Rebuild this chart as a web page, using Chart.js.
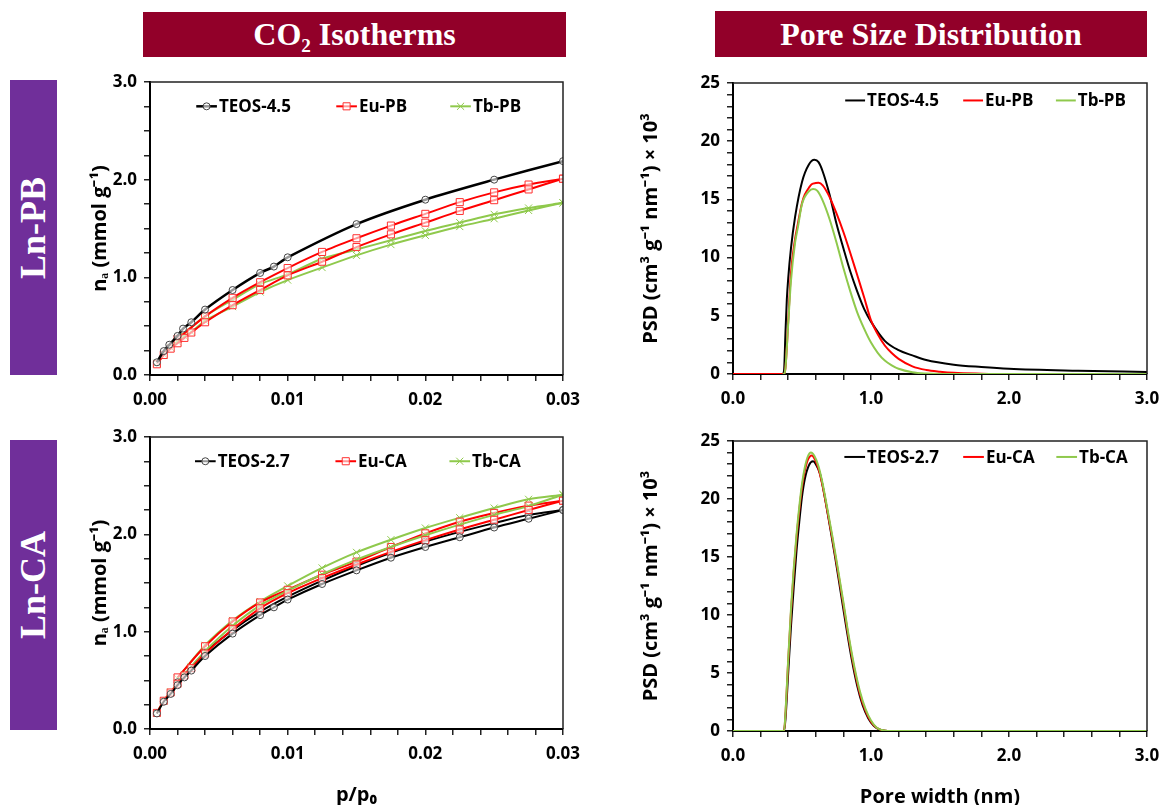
<!DOCTYPE html>
<html>
<head>
<meta charset="utf-8">
<script src="https://cdn.jsdelivr.net/npm/chart.js@4.4.1/dist/chart.umd.min.js"></script>
<style>
  body { margin: 0; width: 1163px; height: 805px; position: relative; overflow: hidden; background: #fff; font-family: 'Open Sans', sans-serif; }
  .hdr { position: absolute; background: #920029; color: #fff; font: bold 32px 'Liberation Serif', serif; display: flex; align-items: center; justify-content: center; }
  .hdr sub { font-size: 0.6em; vertical-align: -0.35em; line-height: 0; }
  .side { position: absolute; background: #702F9A; color: #fff; font: bold 36px 'Liberation Serif', serif; display: flex; align-items: center; justify-content: center; }
  .side span { transform: rotate(-90deg); white-space: nowrap; }
  .box { position: absolute; }
</style>
</head>
<body>

<div class="hdr" style="left:143px;top:12px;width:423px;height:45px"><span>CO<sub>2</sub> Isotherms</span></div>
<div class="hdr" style="left:715px;top:11px;width:432px;height:46px"><span>Pore Size Distribution</span></div>
<div class="side" style="left:10px;top:80px;width:47px;height:295px"><span>Ln-PB</span></div>
<div class="side" style="left:10px;top:440px;width:47px;height:290px"><span>Ln-CA</span></div>

<div class="box" style="left:58px;top:60px"><canvas id="isoPB" width="530" height="353"></canvas></div>
<div class="box" style="left:58px;top:415px"><canvas id="isoCA" width="530" height="397"></canvas></div>
<div class="box" style="left:620px;top:60px"><canvas id="psdPB" width="543" height="352"></canvas></div>
<div class="box" style="left:620px;top:415px"><canvas id="psdCA" width="543" height="397"></canvas></div>

<script>
// ---- CO2 isotherms, Ln-PB (p/p0 vs mmol/g) ----
const pTeos45 = [0.0005, 0.001, 0.0014, 0.002, 0.0024, 0.003, 0.004, 0.006, 0.008, 0.009, 0.01, 0.015, 0.02, 0.025, 0.03]
const nTeos45 = [0.13, 0.245, 0.31, 0.40, 0.475, 0.54, 0.67, 0.87, 1.045, 1.11, 1.205, 1.545, 1.795, 2.0, 2.19]

const pAdsPB = [0.0005, 0.001, 0.0015, 0.002, 0.0025, 0.003, 0.004, 0.006, 0.008, 0.01, 0.0125, 0.015, 0.0175, 0.02, 0.0225, 0.025, 0.0275, 0.03]
const nEuPBAds = [0.11, 0.205, 0.27, 0.325, 0.38, 0.435, 0.54, 0.715, 0.87, 1.02, 1.16, 1.31, 1.44, 1.56, 1.68, 1.79, 1.90, 2.01]
const nTbPBAds = [0.12, 0.21, 0.28, 0.34, 0.395, 0.44, 0.555, 0.70, 0.85, 0.972, 1.10, 1.225, 1.335, 1.43, 1.52, 1.60, 1.685, 1.763]
const pDesPB = [0.03, 0.0275, 0.025, 0.0225, 0.02, 0.0175, 0.015, 0.0125, 0.01, 0.008, 0.006, 0.004, 0.002]
const nEuPBDes = [2.01, 1.95, 1.87, 1.77, 1.65, 1.53, 1.40, 1.26, 1.095, 0.95, 0.79, 0.60, 0.37]
const nTbPBDes = [1.763, 1.71, 1.645, 1.56, 1.475, 1.38, 1.285, 1.19, 1.03, 0.93, 0.77, 0.60, 0.37]

// ---- CO2 isotherms, Ln-CA ----
const pTeos27Ads = [0.0005, 0.001, 0.0015, 0.002, 0.0025, 0.003, 0.004, 0.006, 0.008, 0.009, 0.01, 0.0125, 0.015, 0.0175, 0.02, 0.0225, 0.025, 0.0275, 0.03]
const nTeos27Ads = [0.16, 0.28, 0.36, 0.45, 0.53, 0.60, 0.75, 0.98, 1.17, 1.25, 1.33, 1.49, 1.63, 1.76, 1.87, 1.97, 2.07, 2.16, 2.25]
const pAdsCA = [0.0005, 0.001, 0.0015, 0.002, 0.0025, 0.003, 0.004, 0.006, 0.008, 0.01, 0.0125, 0.015, 0.0175, 0.02, 0.0225, 0.025, 0.0275, 0.03]
const nEuCAAds = [0.165, 0.29, 0.375, 0.465, 0.55, 0.625, 0.775, 1.025, 1.24, 1.395, 1.55, 1.69, 1.82, 1.94, 2.05, 2.15, 2.25, 2.346]
const nTbCAAds = [0.165, 0.29, 0.38, 0.47, 0.56, 0.64, 0.80, 1.06, 1.27, 1.42, 1.59, 1.74, 1.87, 1.99, 2.10, 2.20, 2.29, 2.408]
const pDesCA = [0.03, 0.0275, 0.025, 0.0225, 0.02, 0.0175, 0.015, 0.0125, 0.01, 0.008, 0.006, 0.004, 0.002]
const nTeos27Des = [2.25, 2.20, 2.115, 2.025, 1.925, 1.81, 1.675, 1.525, 1.36, 1.205, 1.015, 0.785, 0.48]
const nEuCADes = [2.346, 2.295, 2.22, 2.13, 2.01, 1.87, 1.72, 1.585, 1.43, 1.30, 1.105, 0.85, 0.53]
const nTbCADes = [2.408, 2.36, 2.27, 2.17, 2.065, 1.945, 1.815, 1.655, 1.47, 1.31, 1.115, 0.86, 0.52]

// ---- pore size distribution, Ln-PB (nm vs PSD x 10^3) ----
const wTeos45 = [0.36, 0.37, 0.38, 0.39, 0.40, 0.42, 0.45, 0.50, 0.55, 0.59, 0.62, 0.65, 0.70, 0.75, 0.80, 0.85, 0.90, 0.95, 1.00, 1.10, 1.20, 1.30, 1.40, 1.60, 1.80, 2.00, 2.50, 3.00]
const psdTeos45 = [0, 0.3, 3.5, 6.4, 8.2, 10.8, 13.5, 16.5, 18.0, 18.4, 18.2, 17.4, 15.4, 12.9, 10.8, 8.8, 7.1, 5.6, 4.5, 2.85, 2.05, 1.6, 1.2, 0.8, 0.6, 0.45, 0.28, 0.17]
const wEuPB = [0, 0.37, 0.38, 0.40, 0.42, 0.45, 0.47, 0.50, 0.52, 0.55, 0.57, 0.60, 0.62, 0.65, 0.70, 0.75, 0.80, 0.85, 0.90, 0.95, 1.00, 1.05, 1.10, 1.15, 1.20, 1.30, 1.40, 1.50, 1.60, 1.80, 2.00, 3.00]
const psdEuPB = [0, 0, 0.5, 4.5, 8.7, 11.6, 12.9, 14.7, 15.4, 16.0, 16.3, 16.4, 16.42, 16.2, 15.2, 13.8, 12.2, 10.4, 8.5, 6.6, 4.6, 3.4, 2.45, 1.8, 1.3, 0.66, 0.35, 0.2, 0.1, 0.03, 0, 0]
const wTbPB = [0.36, 0.37, 0.38, 0.40, 0.42, 0.45, 0.47, 0.50, 0.55, 0.58, 0.61, 0.65, 0.70, 0.75, 0.80, 0.85, 0.90, 0.95, 1.00, 1.05, 1.10, 1.15, 1.20, 1.30, 1.40, 1.50, 3.00]
const psdTbPB = [0, 0, 0.5, 4.3, 8.0, 11.3, 12.6, 14.6, 15.7, 15.9, 15.75, 14.9, 13.3, 11.3, 9.1, 7.1, 5.3, 3.9, 2.7, 1.8, 1.15, 0.75, 0.45, 0.15, 0.04, 0, 0]

// ---- pore size distribution, Ln-CA ----
const wTeos27 = [0, 0.37, 0.38, 0.40, 0.42, 0.44, 0.46, 0.48, 0.50, 0.52, 0.55, 0.58, 0.60, 0.63, 0.66, 0.70, 0.74, 0.78, 0.82, 0.86, 0.90, 0.94, 0.98, 1.02, 1.06, 1.10, 1.15, 3.00]
const psdTeos27 = [0, 0, 1.0, 5.0, 9.0, 12.4, 15.5, 18.0, 20.2, 21.7, 22.9, 23.25, 23.0, 22.2, 20.5, 17.8, 15.0, 12.0, 9.0, 6.2, 3.9, 2.2, 1.1, 0.45, 0.14, 0.02, 0, 0]
const wEuCA = [0, 0.37, 0.38, 0.40, 0.42, 0.44, 0.46, 0.48, 0.50, 0.52, 0.54, 0.57, 0.59, 0.62, 0.65, 0.68, 0.72, 0.76, 0.80, 0.84, 0.88, 0.92, 0.96, 1.00, 1.04, 1.08, 1.12, 3.00]
const psdEuCA = [0, 0, 1.4, 6.0, 10.2, 13.7, 16.6, 19.0, 21.0, 22.4, 23.3, 23.75, 23.5, 22.6, 21.1, 19.2, 16.6, 13.8, 10.9, 7.9, 5.3, 3.2, 1.75, 0.8, 0.28, 0.07, 0, 0]
const wTbCA = [0, 0.37, 0.38, 0.40, 0.42, 0.44, 0.46, 0.48, 0.50, 0.52, 0.54, 0.565, 0.59, 0.62, 0.65, 0.68, 0.72, 0.76, 0.80, 0.84, 0.88, 0.92, 0.96, 1.00, 1.04, 1.08, 1.12, 1.20, 3.00]
const psdTbCA = [0, 0, 1.5, 6.2, 10.5, 14.0, 16.9, 19.3, 21.3, 22.7, 23.6, 24.0, 23.7, 22.8, 21.3, 19.4, 16.8, 14.0, 11.1, 8.1, 5.5, 3.4, 1.9, 0.9, 0.3, 0.08, 0.01, 0, 0]

const BLACK = '#000000'
const RED = '#ff0000'
const GREEN = '#8fc94c'
const tickFont = { family: 'Open Sans', size: 17, weight: 'bold' }
const titleFont = { family: 'Open Sans', size: 20, weight: 'bold' }

const toXY = (xs, ys) => xs.map((x, i) => ({ x: x, y: ys[i] }))

// legend drawn inside the plot, excel style
const insideLegend = {
  id: 'insideLegend',
  afterDatasetsDraw(chart, args, opts) {
    const ctx = chart.ctx
    const a = chart.chartArea
    const w = a.right - a.left
    const y = a.top + opts.y * (a.bottom - a.top)
    ctx.save()
    ctx.font = 'bold 17px "Open Sans"'
    ctx.textBaseline = 'middle'
    let k = 0
    chart.data.datasets.forEach(ds => {
      if (ds.noLegend) return
      const x0 = a.left + opts.starts[k] * w
      const x1 = x0 + opts.len * w
      k++
      ctx.strokeStyle = ds.borderColor
      ctx.lineWidth = ds.borderWidth
      ctx.beginPath(); ctx.moveTo(x0, y); ctx.lineTo(x1, y); ctx.stroke()
      if (ds.pointRadius > 0) {
        ctx.fillStyle = ds.pointBackgroundColor
        ctx.strokeStyle = ds.pointBorderColor
        ctx.lineWidth = 1
        Chart.helpers.drawPoint(ctx, { pointStyle: ds.pointStyle, radius: ds.pointRadius, borderWidth: 1, rotation: 0 }, (x0 + x1) / 2, y)
      }
      ctx.fillStyle = '#000'
      ctx.fillText(ds.label, x1 + 2, y + 1)
    })
    ctx.restore()
  }
}

// top and right edges of the plot box
const plotFrame = {
  id: 'plotFrame',
  afterDraw(chart) {
    const ctx = chart.ctx
    const a = chart.chartArea
    ctx.save()
    ctx.strokeStyle = '#222'
    ctx.lineWidth = 1.5
    ctx.beginPath()
    ctx.moveTo(a.left, a.top); ctx.lineTo(a.right, a.top); ctx.lineTo(a.right, a.bottom)
    ctx.stroke()
    ctx.restore()
  }
}

function axis(min, max, step, every, digits, size, title, titlePad, horizontal) {
  return {
    type: 'linear',
    min: min,
    max: max,
    afterFit: s => {
      if (horizontal) { s.height = size; s.paddingLeft = 0; s.paddingRight = 0 } else s.width = size
    },
    grid: { display: true, drawOnChartArea: false, drawTicks: true, tickLength: 6, color: '#222', lineWidth: 1.5 },
    border: { display: true, color: '#000', width: 2 },
    ticks: {
      stepSize: step,
      maxTicksLimit: 200,
      autoSkip: false,
      maxRotation: 0,
      padding: horizontal ? 9 : 7,
      color: '#000',
      font: tickFont,
      callback: v => Math.abs(v / every - Math.round(v / every)) < 1e-6 ? v.toFixed(digits) : ''
    },
    title: { display: !!title, text: title, color: '#000', font: titleFont, padding: titlePad }
  }
}

function isoSet(label, xs, ys, color, style, radius, ptColor, width, noLegend) {
  return {
    label: label,
    data: toXY(xs, ys),
    showLine: true,
    borderColor: color,
    borderWidth: width,
    tension: 0.3,
    pointStyle: style,
    pointRadius: radius,
    pointBorderColor: ptColor,
    pointBorderWidth: 1,
    pointBackgroundColor: 'rgba(255,255,255,0.6)',
    noLegend: noLegend
  }
}

function psdSet(label, xs, ys, color, order) {
  return {
    label: label,
    data: toXY(xs, ys),
    showLine: true,
    borderColor: color,
    borderWidth: 2,
    pointRadius: 0,
    tension: 0.4,
    cubicInterpolationMode: 'monotone',
    order: order
  }
}

function makeChart(id, datasets, xAxis, yAxis, pad, legendOpts) {
  return new Chart(document.getElementById(id), {
    type: 'scatter',
    data: { datasets: datasets },
    options: {
      responsive: false,
      animation: false,
      events: [],
      layout: { padding: pad },
      scales: { x: xAxis, y: yAxis },
      plugins: { legend: { display: false }, tooltip: { enabled: false }, insideLegend: legendOpts }
    },
    plugins: [insideLegend, plotFrame]
  })
}

makeChart('isoPB', [
  isoSet('TEOS-4.5', pTeos45, nTeos45, BLACK, 'circle', 3.5, '#444', 2.5, false),
  isoSet('Eu-PB', pAdsPB, nEuPBAds, RED, 'rect', 5, '#ff3030', 2, false),
  isoSet('Tb-PB', pAdsPB, nTbPBAds, GREEN, 'crossRot', 5, GREEN, 2, false),
  isoSet('Eu-PB', pDesPB, nEuPBDes, RED, 'rect', 5, '#ff3030', 2, true),
  isoSet('Tb-PB', pDesPB, nTbPBDes, GREEN, 'crossRot', 5, GREEN, 2, true)
],
  axis(0, 0.03, 0.002, 0.01, 2, 38, '', 0, true),
  axis(0, 3, 0.25, 1, 1, 92, 'nₐ (mmol g⁻¹)', { top: 30, bottom: 0 }, false),
  { top: 22, right: 25, left: 0, bottom: 0 },
  { y: 0.083, starts: [0.112, 0.451, 0.727], len: 0.05 })

makeChart('isoCA', [
  isoSet('TEOS-2.7', pTeos27Ads, nTeos27Ads, BLACK, 'circle', 3.5, '#444', 2, false),
  isoSet('Eu-CA', pAdsCA, nEuCAAds, RED, 'rect', 5, '#ff3030', 2, false),
  isoSet('Tb-CA', pAdsCA, nTbCAAds, GREEN, 'crossRot', 5, GREEN, 2, false),
  isoSet('TEOS-2.7', pDesCA, nTeos27Des, BLACK, 'circle', 3.5, '#444', 2, true),
  isoSet('Eu-CA', pDesCA, nEuCADes, RED, 'rect', 5, '#ff3030', 2, true),
  isoSet('Tb-CA', pDesCA, nTbCADes, GREEN, 'crossRot', 5, GREEN, 2, true)
],
  axis(0, 0.03, 0.002, 0.01, 2, 83, 'p/p₀', { top: 0, bottom: 5 }, true),
  axis(0, 3, 0.25, 1, 1, 92, 'nₐ (mmol g⁻¹)', { top: 30, bottom: 0 }, false),
  { top: 22, right: 25, left: 0, bottom: 0 },
  { y: 0.083, starts: [0.109, 0.449, 0.725], len: 0.05 })

makeChart('psdPB', [
  psdSet('TEOS-4.5', wTeos45, psdTeos45, BLACK, 3),
  psdSet('Eu-PB', wEuPB, psdEuPB, RED, 2),
  psdSet('Tb-PB', wTbPB, psdTbPB, GREEN, 1)
],
  axis(0, 3, 0.2, 1, 1, 38, '', 0, true),
  axis(0, 25, 1, 5, 0, 113, 'PSD (cm³ g⁻¹ nm⁻¹) × 10³', { top: 19, bottom: 0 }, false),
  { top: 23, right: 16, left: 0, bottom: 0 },
  { y: 0.06, starts: [0.271, 0.556, 0.78], len: 0.048 })

makeChart('psdCA', [
  psdSet('TEOS-2.7', wTeos27, psdTeos27, BLACK, 3),
  psdSet('Eu-CA', wEuCA, psdEuCA, RED, 2),
  psdSet('Tb-CA', wTbCA, psdTbCA, GREEN, 1)
],
  axis(0, 3, 0.2, 1, 1, 81, 'Pore width (nm)', { top: 0, bottom: 3 }, true),
  axis(0, 25, 1, 5, 0, 113, 'PSD (cm³ g⁻¹ nm⁻¹) × 10³', { top: 19, bottom: 0 }, false),
  { top: 26, right: 16, left: 0, bottom: 0 },
  { y: 0.055, starts: [0.269, 0.556, 0.781], len: 0.05 })
</script>
</body>
</html>
